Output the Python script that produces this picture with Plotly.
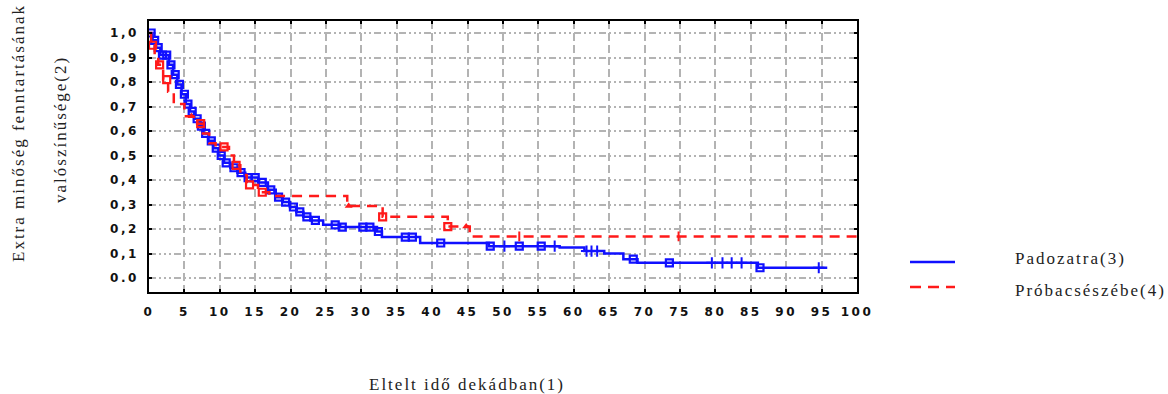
import numpy as np
import plotly.graph_objects as go

# Kaplan-Meier style step curves (time in decades, probability)
blue_time = [0, 0.5, 1.0, 1.6, 2.8, 3.4, 4.0, 4.6, 5.2, 5.8, 6.4, 7.1, 7.7, 8.4, 9.1,
             9.8, 10.6, 11.5, 12.5, 13.6, 15.4, 16.8, 17.9, 18.9, 19.9, 20.8, 21.8,
             22.8, 24.6, 27.0, 32.2, 32.9, 38.3, 48.0, 58.0, 61.5, 64.3, 67.0, 69.0,
             86.0, 95.8]
blue_surv = [1.0, 0.97, 0.94, 0.91, 0.87, 0.83, 0.79, 0.75, 0.71, 0.68, 0.65, 0.62,
             0.59, 0.56, 0.53, 0.50, 0.47, 0.45, 0.43, 0.41, 0.39, 0.36, 0.33, 0.31,
             0.29, 0.27, 0.25, 0.235, 0.217, 0.208, 0.19, 0.167, 0.143, 0.13, 0.125,
             0.11, 0.10, 0.077, 0.062, 0.042, 0.042]

red_time = [0, 0.3, 0.8, 1.3, 2.0, 2.7, 3.5, 5.0, 6.8, 7.6, 8.5, 9.4, 11.3, 12.0,
            12.9, 13.8, 15.4, 17.0, 28.0, 33.0, 42.2, 45.3, 100]
red_surv = [1.0, 0.95, 0.91, 0.87, 0.81, 0.76, 0.71, 0.66, 0.63, 0.59, 0.55, 0.535,
            0.50, 0.46, 0.42, 0.38, 0.35, 0.335, 0.294, 0.25, 0.21, 0.17, 0.17]

# censored observations (times)
blue_cens_sq = [0.3, 0.8, 1.3, 1.9, 2.5, 3.1, 3.7, 4.3, 5.0, 5.5, 6.1, 6.8, 7.4, 8.0,
                8.8, 9.5, 10.2, 10.9, 12.0, 13.0, 14.0, 15.0, 16.0, 17.2, 18.3, 19.3,
                20.4, 21.3, 22.3, 23.5, 26.3, 27.3, 30.2, 31.2, 32.4, 36.2, 37.2, 41.2,
                48.2, 52.3, 55.4, 68.4, 73.5, 86.3]
blue_cens_plus = [50.2, 57.3, 61.8, 62.5, 63.3, 79.5, 81.0, 82.3, 83.7, 94.6]
red_cens_sq = [0.5, 1.5, 2.5, 7.3, 10.6, 12.3, 14.2, 16.0, 33.0, 42.2]
red_cens_tri = [6.0, 28.2, 44.8]
red_cens_tick = [52.3, 74.8]

y_ticks = [1.0, 0.9, 0.8, 0.7, 0.6, 0.5, 0.4, 0.3, 0.2, 0.1, 0.0]
y_tick_text = ["1,0", "0,9", "0,8", "0,7", "0,6", "0,5", "0,4", "0,3", "0,2", "0,1", "0.0"]
x_ticks = list(range(0, 101, 5))

series_names = ["Padozatra(3)", "Próbacsészébe(4)"]
x_title = "Eltelt idő dekádban(1)"
y_title_1 = "Extra minőség fenntartásának"
y_title_2 = "valószínűsége(2)"

BLUE = "#1010ff"
RED = "#ff1a1a"


def step_value(times, surv, t):
    i = np.searchsorted(np.asarray(times), t, side="right") - 1
    return np.asarray(surv)[i]


def spaced(text, px):
    return f'<span style="letter-spacing:{px}px">{text}</span>'


fig = go.Figure()

fig.add_trace(go.Scatter(x=blue_time, y=blue_surv, mode="lines", line_shape="hv",
                         line=dict(color=BLUE, width=2.5), name=series_names[0],
                         showlegend=False))
fig.add_trace(go.Scatter(x=blue_cens_sq, y=[step_value(blue_time, blue_surv, t) for t in blue_cens_sq],
                         mode="markers", marker=dict(symbol="square-open", size=7,
                                                     color=BLUE, line=dict(width=2.2)),
                         showlegend=False))
fig.add_trace(go.Scatter(x=blue_cens_plus, y=[step_value(blue_time, blue_surv, t) for t in blue_cens_plus],
                         mode="markers", marker=dict(symbol="cross-thin-open", size=8,
                                                     color=BLUE, line=dict(width=2, color=BLUE)),
                         showlegend=False))

fig.add_trace(go.Scatter(x=red_time, y=red_surv, mode="lines", line_shape="hv",
                         line=dict(color=RED, width=2.5, dash="10px,7px"),
                         name=series_names[1], showlegend=False))
fig.add_trace(go.Scatter(x=red_cens_sq, y=[step_value(red_time, red_surv, t) for t in red_cens_sq],
                         mode="markers", marker=dict(symbol="square-open", size=7,
                                                     color=RED, line=dict(width=2.2)),
                         showlegend=False))
fig.add_trace(go.Scatter(x=red_cens_tri, y=[step_value(red_time, red_surv, t) for t in red_cens_tri],
                         mode="markers", marker=dict(symbol="triangle-up", size=7, color=RED),
                         showlegend=False))
fig.add_trace(go.Scatter(x=red_cens_tick, y=[step_value(red_time, red_surv, t) for t in red_cens_tick],
                         mode="markers", marker=dict(symbol="line-ns-open", size=7,
                                                     color=RED, line=dict(width=2, color=RED)),
                         showlegend=False))

W, H = 1168, 394
L, R, T, B = 149, 311, 21, 102


def px_x(x):
    return (x - L) / (W - L - R)


def px_y(y):
    return (H - B - y) / (H - B - T)


tick_font = dict(family="DejaVu Sans", size=12, color="#111111", weight="bold")
serif = "Liberation Serif"
title_font = dict(family=serif, size=17, color="#222222")

fig.update_layout(
    width=W, height=H,
    margin=dict(l=L, r=R, t=T, b=B),
    paper_bgcolor="white", plot_bgcolor="white",
    xaxis=dict(range=[0, 100], tickvals=x_ticks,
               ticktext=[spaced(str(v), 2.5) for v in x_ticks],
               ticks="inside", ticklen=3, tickwidth=1.5, tickcolor="black",
               showline=True, linecolor="black", linewidth=1.6, mirror="ticks",
               showgrid=True, gridcolor="#b3b3b3", gridwidth=1.5, griddash="8px,4px",
               zeroline=False, tickfont=tick_font, ticklabelstandoff=8),
    yaxis=dict(range=[-0.057, 1.049], tickvals=y_ticks,
               ticktext=[spaced(s, 2.5) for s in y_tick_text],
               ticks="inside", ticklen=3, tickwidth=1.5, tickcolor="black",
               showline=True, linecolor="black", linewidth=1.6, mirror="ticks",
               showgrid=True, gridcolor="#b3b3b3", gridwidth=1.5,
               griddash="7px,3px,2px,3px,2px,3px,2px,3px",
               zeroline=False, tickfont=tick_font, ticklabelstandoff=6),
    showlegend=False,
)

annotations = [
    dict(text=spaced(x_title, 2), x=px_x(467), y=px_y(384), xref="paper", yref="paper",
         showarrow=False, font=title_font, xanchor="center", yanchor="middle"),
    dict(text=spaced(y_title_1, 2), x=px_x(18), y=px_y(133), xref="paper", yref="paper",
         showarrow=False, textangle=-90, font=title_font,
         xanchor="center", yanchor="middle"),
    dict(text=spaced(y_title_2, 2), x=px_x(60), y=px_y(130), xref="paper", yref="paper",
         showarrow=False, textangle=-90, font=title_font,
         xanchor="center", yanchor="middle"),
    dict(text=spaced(series_names[0], 2), x=px_x(1013), y=px_y(258), xref="paper", yref="paper",
         showarrow=False, font=title_font, xanchor="left", yanchor="middle"),
    dict(text=spaced(series_names[1], 2), x=px_x(1013), y=px_y(290), xref="paper", yref="paper",
         showarrow=False, font=title_font, xanchor="left", yanchor="middle"),
]
fig.update_layout(annotations=annotations)

fig.add_shape(type="line", xref="paper", yref="paper",
              x0=px_x(910), x1=px_x(955), y0=px_y(262), y1=px_y(262),
              line=dict(color=BLUE, width=2.5))
fig.add_shape(type="line", xref="paper", yref="paper",
              x0=px_x(910), x1=px_x(955), y0=px_y(287), y1=px_y(287),
              line=dict(color=RED, width=2.5, dash="11px,7px"))

fig.write_html("out.html")
